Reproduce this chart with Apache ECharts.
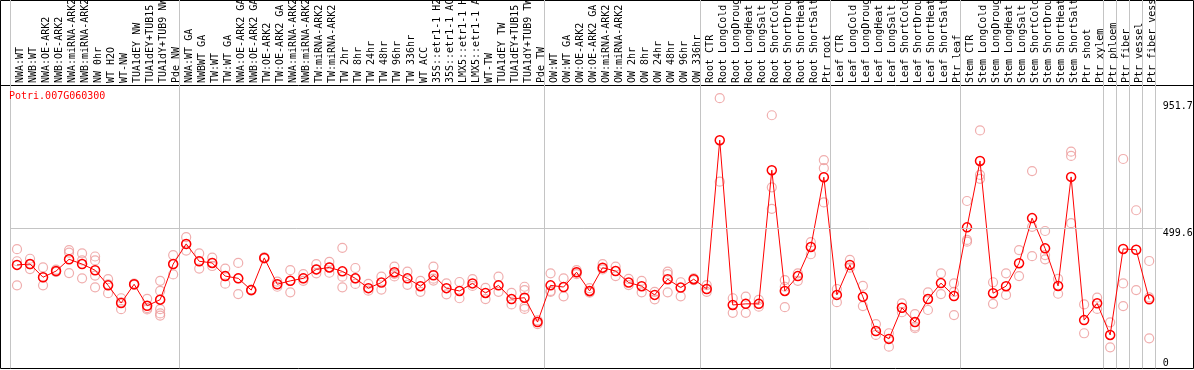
<!DOCTYPE html>
<html>
<head>
<meta charset="utf-8">
<script src="https://cdn.jsdelivr.net/npm/echarts@6/dist/echarts.min.js"></script>
<style>
  html, body { margin: 0; padding: 0; background: #fff; }
  #chart { width: 1194px; height: 370px; }
</style>
</head>
<body>
<div id="chart"></div>
<script>
const GENE = 'Potri.007G060300';

const categories = [
  'NWA:WT', 'NWB:WT', 'NWA:OE-ARK2', 'NWB:OE-ARK2', 'NWA:miRNA-ARK2', 'NWB:miRNA-ARK2', 'NW 0hr', 'WT H2O', 'WT-NW',
  'TUA1dEY NW', 'TUA1dEY+TUB15 NW', 'TUA1dY+TUB9 NW', 'Pde NW',
  'NWA:WT GA', 'NWBWT GA', 'TW:WT', 'TW:WT GA', 'NWA:OE-ARK2 GA', 'NWB:OE-ARK2 GA', 'TW:OE-ARK2', 'TW:OE-ARK2 GA',
  'NWA:miRNA-ARK2 GA', 'NWB:miRNA-ARK2 GA', 'TW:miRNA-ARK2', 'TW:miRNA-ARK2 GA',
  'TW 2hr', 'TW 8hr', 'TW 24hr', 'TW 48hr', 'TW 96hr', 'TW 336hr', 'WT ACC',
  '35S::etr1-1 H2O', '35S::etr1-1 ACC', 'LMX5::etr1-1 H2O', 'LMX5::etr1-1 ACC', 'WT-TW',
  'TUA1dEY TW', 'TUA1dEY+TUB15 TW', 'TUA1dY+TUB9 TW', 'Pde TW',
  'OW:WT', 'OW:WT GA', 'OW:OE-ARK2', 'OW:OE-ARK2 GA', 'OW:miRNA-ARK2', 'OW:miRNA-ARK2 GA',
  'OW 2hr', 'OW 8hr', 'OW 24hr', 'OW 48hr', 'OW 96hr', 'OW 336hr',
  'Root CTR', 'Root LongCold', 'Root LongDrought', 'Root LongHeat', 'Root LongSalt',
  'Root ShortCold', 'Root ShortDrought', 'Root ShortHeat', 'Root ShortSalt', 'Ptr root',
  'Leaf CTR', 'Leaf LongCold', 'Leaf LongDrought', 'Leaf LongHeat', 'Leaf LongSalt',
  'Leaf ShortCold', 'Leaf ShortDrought', 'Leaf ShortHeat', 'Leaf ShortSalt', 'Ptr leaf',
  'Stem CTR', 'Stem LongCold', 'Stem LongDrought', 'Stem LongHeat', 'Stem LongSalt',
  'Stem ShortCold', 'Stem ShortDrought', 'Stem ShortHeat', 'Stem ShortSalt', 'Ptr shoot',
  'Ptr xylem', 'Ptr phloem', 'Ptr fiber', 'Ptr vessel', 'Ptr fiber vessel'
];

// mean expression per sample
const means = [
  369, 372, 325, 347, 389, 372, 350, 296, 233, 300, 223, 245, 372,
  444, 382, 376, 329, 321, 279, 394, 300, 312, 321, 353, 360, 346, 321, 286, 306, 343, 321, 293,
  332, 286, 276, 303, 269, 296, 247, 252, 165,
  296, 290, 343, 276, 359, 347, 306, 293, 262, 318, 288, 318,
  283, 814, 226, 230, 230, 707, 276, 329, 433, 682,
  262, 369, 255, 133, 105, 216, 165, 247, 304, 258,
  503, 740, 268, 293, 375, 536, 428, 294, 683, 172,
  232, 119, 426, 423, 246
];

// individual replicates per sample
const replicates = [
  [425, 382, 296], [391, 371, 354], [360, 324, 296], [352, 345, 344], [422, 413, 340], [410, 385, 321],
  [399, 385, 331, 289], [318, 300, 268], [250, 235, 211], [302, 300, 298], [248, 215, 210],
  [312, 276, 245, 211, 196, 188], [404, 372, 335],
  [468, 443, 420], [410, 382, 356], [395, 376, 365], [356, 329, 302], [376, 321, 265], [281, 279, 277],
  [396, 394, 391], [309, 300, 291], [350, 312, 271], [336, 321, 312], [372, 353, 339], [380, 360, 341],
  [430, 327, 289], [358, 321, 301], [301, 277], [327, 281], [363, 337, 328], [345, 298], [312, 273],
  [363, 320, 313], [303, 264], [308, 250], [318, 294], [287, 247], [327, 273], [269, 228],
  [291, 279, 220, 212], [171, 158],
  [339, 276, 273], [321, 257], [350, 342, 336], [286, 273, 270], [372, 353], [363, 329],
  [319, 297], [312, 271], [273, 246], [345, 336, 271], [307, 257], [321, 315],
  [297, 283, 273], [964, 666], [250, 198], [256, 198], [244, 220], [903, 646, 569],
  [315, 291, 218], [339, 312], [450, 407], [743, 714, 592],
  [283, 236], [387, 359], [294, 222], [158, 119], [125, 77], [232, 216, 200],
  [193, 149, 143], [271, 247, 208], [339, 265], [303, 273, 190],
  [597, 458, 452], [849, 690, 676], [307, 230], [339, 262], [422, 329], [704, 505, 400],
  [490, 404, 389], [319, 266], [773, 758, 518], [228, 125],
  [252, 212], [164, 75], [747, 303, 222], [564, 279], [383, 253, 107]
];

const yLabelsLow = [0];
const yLabelsHigh = [499.6, 951.7];
const refLine = 499.6;
// first sample of each tissue block, a separator is drawn before it
const groupStarts = [0, 13, 41, 53, 63, 73, 84, 85, 86, 87];

const FONT = 'DejaVu Sans Mono';
const C_MEAN = '#ff0000';
const C_REP = '#ec9a9a';
const C_SEP = '#c4c4c4';
const Y_MAX = 1011;

const repPoints = [];
replicates.forEach((vals, i) => vals.forEach(v => repPoints.push([i, v])));

const isGroupStart = (idx) => groupStarts.includes(idx);
const sepLine = { show: true, interval: isGroupStart, lineStyle: { color: C_SEP, width: 1 } };

const chart = echarts.init(document.getElementById('chart'));

chart.setOption({
  animation: false,
  title: {
    text: GENE, left: 9, top: 91, padding: 0,
    textStyle: { color: C_MEAN, fontFamily: FONT, fontSize: 10, fontWeight: 'normal' },
  },
  // plot grid + label strip above it (separators run through both)
  grid: [
    { left: 10.5, width: 1145.2, top: 85, height: 283.3, outerBoundsMode: 'none', containLabel: false },
    { left: 10.5, width: 1145.2, top: 0, height: 85, outerBoundsMode: 'none', containLabel: false },
  ],
  xAxis: [
    {
      type: 'category', gridIndex: 0, position: 'top', data: categories, boundaryGap: true,
      axisLine: { show: false }, axisTick: { show: false },
      // rotated labels: top-anchored short line box puts the glyphs on the sample centre
      axisLabel: { interval: 0, rotate: 90, margin: 2, verticalAlign: 'top', lineHeight: 7,
        fontFamily: FONT, fontSize: 10, color: '#000' },
      splitLine: sepLine,
    },
    {
      type: 'category', gridIndex: 1, data: categories, boundaryGap: true,
      axisLine: { show: false }, axisTick: { show: false }, axisLabel: { show: false },
      splitLine: sepLine,
    },
  ],
  yAxis: [
    {
      type: 'value', gridIndex: 0, position: 'right', min: 0, max: Y_MAX,
      splitLine: { show: false }, axisLine: { show: false }, axisTick: { show: false },
      axisLabel: { customValues: yLabelsLow, align: 'left', verticalAlign: 'bottom', margin: 7,
        fontFamily: FONT, fontSize: 10, color: '#000' },
    },
    {
      type: 'value', gridIndex: 0, position: 'right', min: 0, max: Y_MAX,
      splitLine: { show: false }, axisLine: { show: false },
      axisTick: { show: true, customValues: [refLine], length: 7, lineStyle: { color: C_SEP } },
      axisLabel: { customValues: yLabelsHigh, align: 'left', verticalAlign: 'top', margin: 7,
        fontFamily: FONT, fontSize: 10, color: '#000' },
    },
    { type: 'value', gridIndex: 1, show: false },
  ],
  graphic: [
    { type: 'rect', shape: { x: 0.5, y: 0.5, width: 1193, height: 368 }, style: { fill: 'none', stroke: '#000', lineWidth: 1 }, silent: true },
    { type: 'line', shape: { x1: 0, y1: 85.5, x2: 1194, y2: 85.5 }, style: { stroke: '#000', lineWidth: 1 }, silent: true },
  ],
  series: [
    {
      type: 'scatter', xAxisIndex: 0, yAxisIndex: 0, data: repPoints,
      symbol: 'circle', symbolSize: 9,
      itemStyle: { color: 'rgba(0,0,0,0)', borderColor: C_REP, borderWidth: 1.2 },
      z: 2,
    },
    {
      type: 'line', xAxisIndex: 0, yAxisIndex: 0, data: means,
      symbol: 'circle', symbolSize: 9,
      lineStyle: { color: C_MEAN, width: 1 },
      itemStyle: { color: 'rgba(0,0,0,0)', borderColor: C_MEAN, borderWidth: 1.5 },
      markLine: {
        silent: true, symbol: 'none', label: { show: false },
        lineStyle: { color: C_SEP, type: 'solid', width: 1 },
        data: [{ yAxis: refLine }],
      },
      z: 3,
    },
  ],
});
</script>
</body>
</html>
